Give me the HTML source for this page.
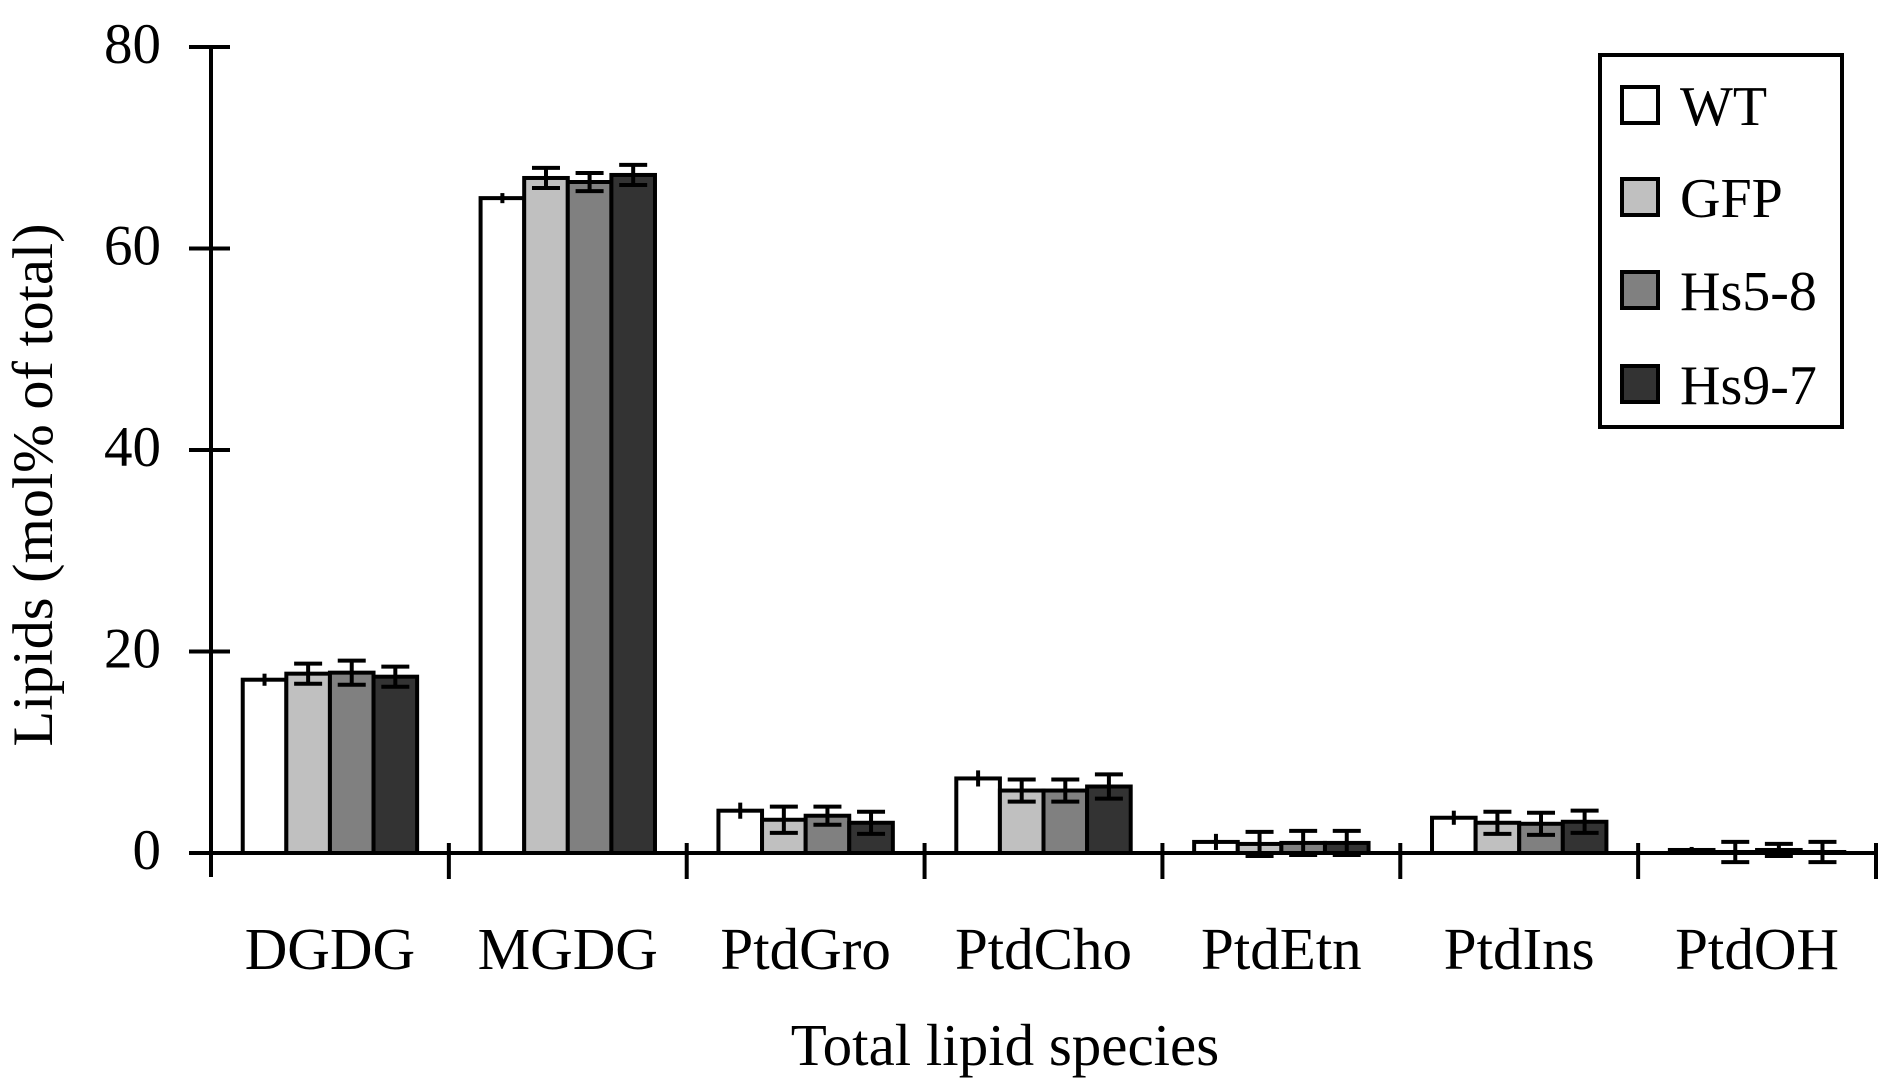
<!DOCTYPE html>
<html><head><meta charset="utf-8"><style>
html,body{margin:0;padding:0;background:#fff;}
svg{display:block;font-family:"Liberation Serif",serif;}
</style></head><body>
<svg id="chart" width="1882" height="1086" viewBox="0 0 1882 1086">
<g id="bars"></g>
<g id="axes"></g>
<g id="legend"></g>
</svg>
<script>
const categories = ["DGDG","MGDG","PtdGro","PtdCho","PtdEtn","PtdIns","PtdOH"];
const seriesNames = ["WT","GFP","Hs5-8","Hs9-7"];
const wtValues = [17.2,65.0,4.2,7.4,1.1,3.5,0.3];
const gfpValues = [17.8,67.0,3.3,6.2,0.9,3.0,0.1];
const hs58Values = [17.9,66.6,3.7,6.2,1.0,2.9,0.3];
const hs97Values = [17.5,67.3,3.0,6.6,1.0,3.1,0.1];
const wtErr = [0.6,0.5,0.8,0.8,0.8,0.7,0.3];
const gfpErr = [1.0,1.0,1.3,1.1,1.2,1.1,1.0];
const hs58Err = [1.2,0.9,0.9,1.1,1.2,1.1,0.6];
const hs97Err = [1.0,1.0,1.1,1.2,1.2,1.1,1.0];
const yTicks = [0,20,40,60,80];

const NS="http://www.w3.org/2000/svg";
const fills=["#ffffff","#c0c0c0","#808080","#333333"];
const values=[wtValues,gfpValues,hs58Values,hs97Values];
const errs=[wtErr,gfpErr,hs58Err,hs97Err];
const X0=211,X1=1876,Y0=853,Y80=47;
const catW=(X1-X0)/categories.length;
const barW=43.6, pad=(catW-4*barW)/2;
function y(v){return Y0-(v/80)*(Y0-Y80);}
function xBar(c,s){return X0+c*catW+pad+s*barW;}
function mk(tag,attrs,parent){const e=document.createElementNS(NS,tag);for(const k in attrs)e.setAttribute(k,attrs[k]);parent.appendChild(e);return e;}

const gb=document.getElementById('bars');
for(let c=0;c<categories.length;c++){
  for(let s=0;s<4;s++){
    const v=values[s][c],x=xBar(c,s);
    const r=mk('rect',{x:x,y:y(v),width:barW,height:Y0-y(v),fill:fills[s],stroke:'#000','stroke-width':4},gb);
    
    
  }
  for(let s=0;s<4;s++){
    const v=values[s][c],e=errs[s][c],cx=xBar(c,s)+barW/2;
    const g=mk('g',{},gb);
    
    
    mk('line',{x1:cx,x2:cx,y1:y(v-e),y2:y(v+e),stroke:'#000','stroke-width':4},g);
    if(s>0){
      mk('line',{x1:cx-14,x2:cx+14,y1:y(v-e),y2:y(v-e),stroke:'#000','stroke-width':4},g);
      mk('line',{x1:cx-14,x2:cx+14,y1:y(v+e),y2:y(v+e),stroke:'#000','stroke-width':4},g);
    }
  }
}

const ga=document.getElementById('axes');
mk('line',{x1:X0,x2:X0,y1:Y80,y2:Y0+24,stroke:'#000','stroke-width':4},ga);
mk('line',{x1:X0-2,x2:X1,y1:Y0,y2:Y0,stroke:'#000','stroke-width':4},ga);
for(const t of yTicks){
  mk('line',{x1:189,x2:230,y1:y(t),y2:y(t),stroke:'#000','stroke-width':4},ga);
  const tx=mk('text',{x:161,y:y(t)+16,'text-anchor':'end','font-size':57},ga);
  tx.textContent=t;
  
  
}
for(let c=1;c<=categories.length;c++){
  mk('line',{x1:X0+c*catW,x2:X0+c*catW,y1:Y0-10,y2:Y0+26,stroke:'#000','stroke-width':4},ga);
}
for(let c=0;c<categories.length;c++){
  const tx=mk('text',{x:X0+(c+0.5)*catW,y:969,'text-anchor':'middle','font-size':59},ga);
  tx.textContent=categories[c];
  
  
}
const xt=mk('text',{x:1005,y:1065,'text-anchor':'middle','font-size':59},ga);
xt.textContent='Total lipid species';


const yt=mk('text',{x:0,y:0,'text-anchor':'middle','font-size':57,textLength:523,lengthAdjust:'spacingAndGlyphs',transform:'translate(52,485) rotate(-90)'},ga);
yt.textContent='Lipids (mol% of total)';



const gl=document.getElementById('legend');
mk('rect',{x:1600,y:55,width:242,height:372,fill:'#fff',stroke:'#000','stroke-width':4},gl);
const rows=[105,197,290,384];
for(let s=0;s<4;s++){
  const g=mk('g',{},gl);
  
  
  mk('rect',{x:1622,y:rows[s]-18,width:36,height:36,fill:fills[s],stroke:'#000','stroke-width':4},g);
  const t=mk('text',{x:1680,y:rows[s]+20,'font-size':56},g);
  t.textContent=seriesNames[s];
}
</script>
</body></html>
